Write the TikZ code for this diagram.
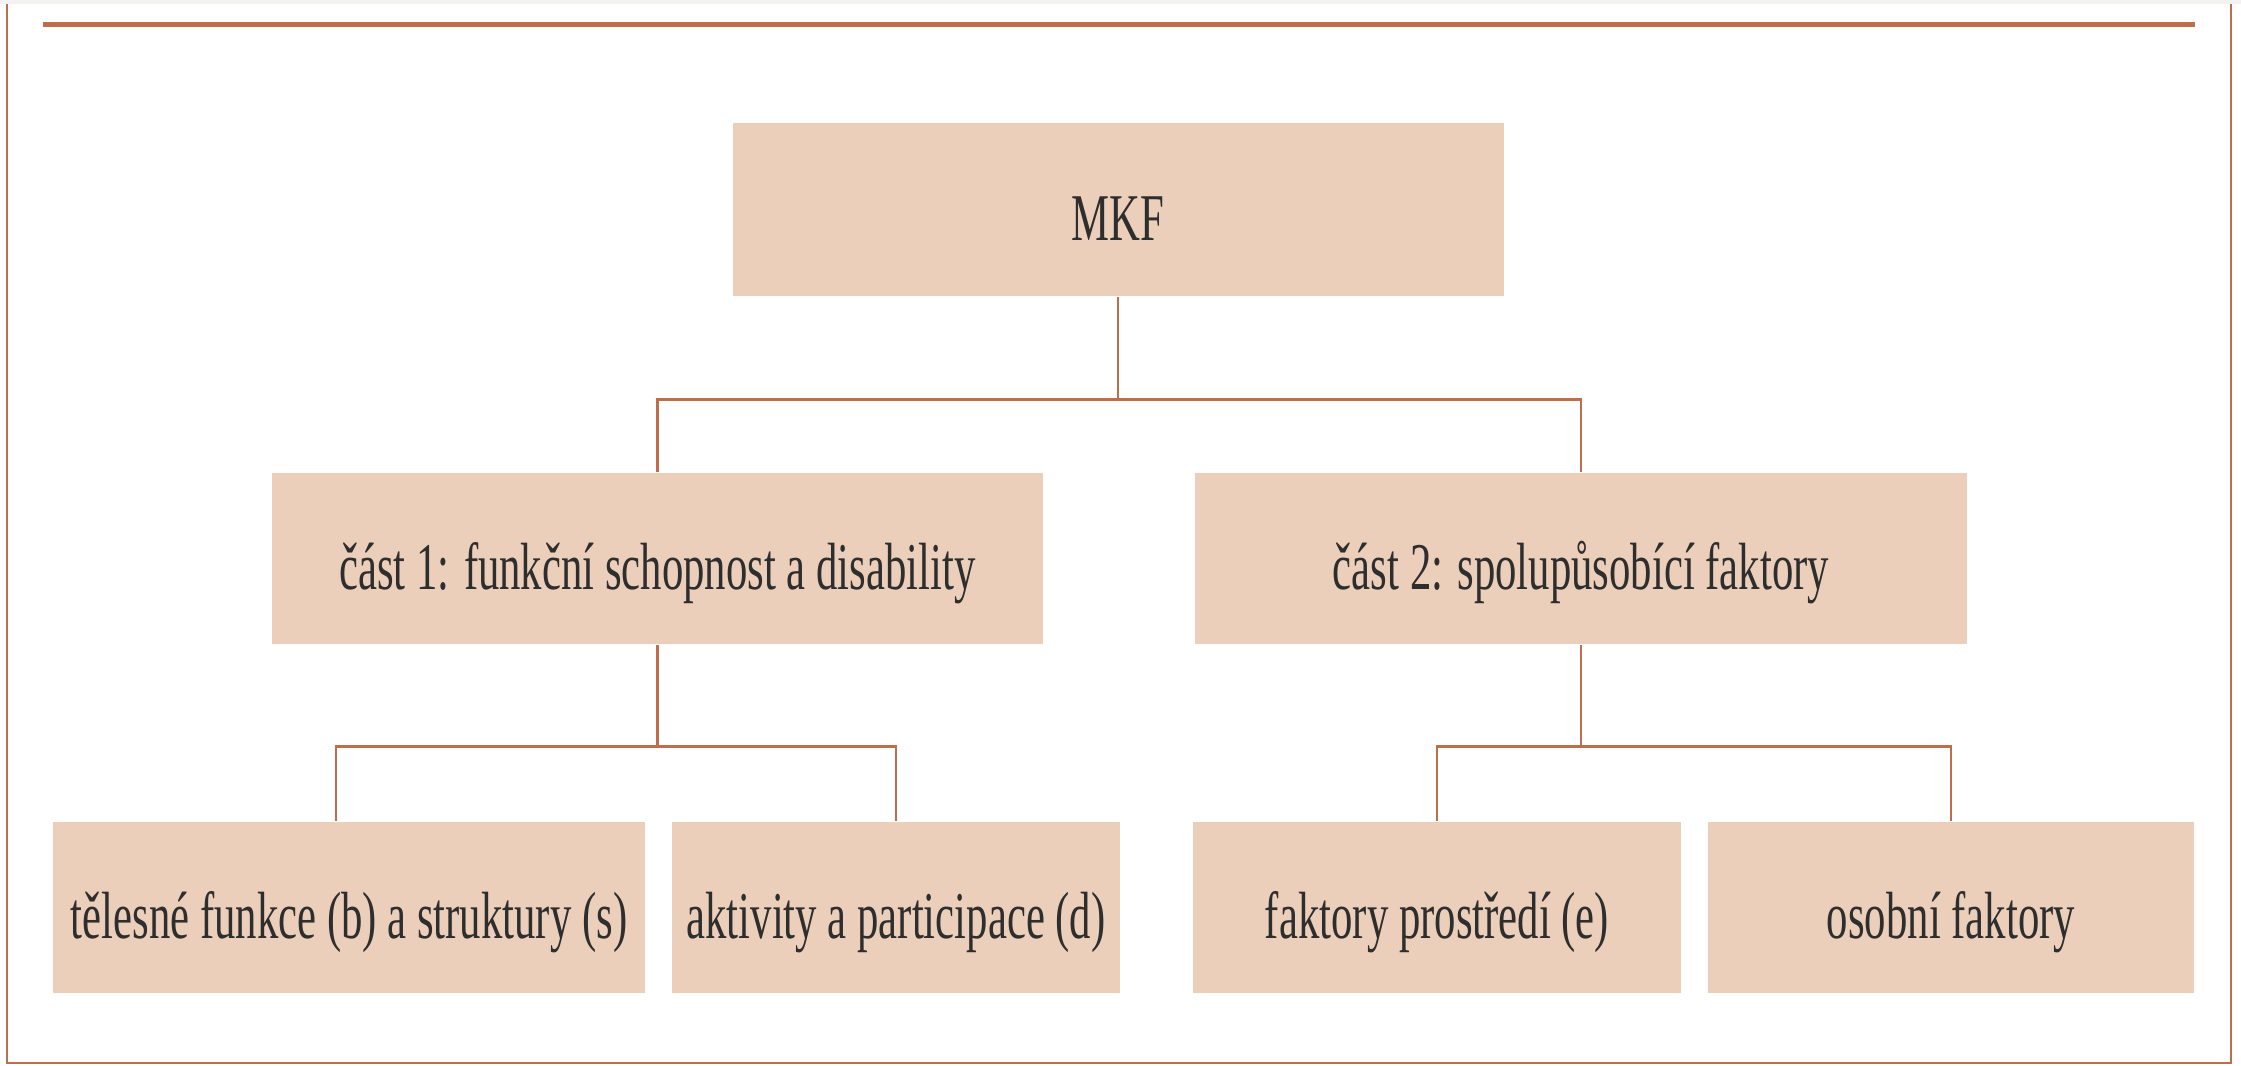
\documentclass[tikz,border=0pt]{standalone}
\usepackage{fontspec}
\setmainfont{Liberation Serif}[FakeStretch=0.64]
\definecolor{icfBody}{rgb}{0.922,0.812,0.729}
\definecolor{icfLine}{rgb}{0.745,0.431,0.290}
\definecolor{icfText}{rgb}{0.18,0.18,0.18}
\definecolor{pageGray}{rgb}{0.949,0.949,0.941}
\usetikzlibrary{positioning}
\tikzstyle{ICF} = [fill=icfBody, minimum height=1.71cm]
\tikzstyle{link} = [draw=icfLine, line width=0.75pt]

\begin{document}
\begin{tikzpicture}[
            every node/.style={inner sep=0pt, text=icfText, font=\fontsize{19}{22}\selectfont, text height=0.75cm, text depth=0.13cm},
            node distance=3.49cm
        ]
            \useasboundingbox (0,0) rectangle (22.41,-10.66);
            \fill [pageGray] (0,0) rectangle (22.41,-0.04);
            \draw [icfLine, line width=0.7pt] (0.07,-0.04) -- (0.07,-10.63) -- (22.31,-10.63) -- (22.31,-0.04);
            \draw [icfLine, line width=1.4pt] (0.43,-0.245) -- (21.95,-0.245);
            \node [ICF, minimum width=7.71cm, minimum height=1.73cm] (mkf) at (11.18,-2.095) {MKF};
            \node [ICF, minimum width=7.71cm, below of=mkf, xshift=-4.605cm] (part1) {část 1: funkční schopnost a disability};
            \node [ICF, minimum width=7.72cm, below of=mkf, xshift=4.63cm] (part2) {část 2: spolupůsobící faktory};
            \node [ICF, minimum width=5.92cm, below of=part1, xshift=-3.085cm] (body) {tělesné funkce (b) a struktury (s)};
            \node [ICF, minimum width=4.48cm, below of=part1, xshift=2.385cm] (activity) {aktivity a participace (d)};
            \node [ICF, minimum width=4.88cm, below of=part2, xshift=-1.44cm] (environment) {faktory prostředí (e)};
            \node [ICF, minimum width=4.86cm, below of=part2, xshift=3.70cm] (personal) {osobní faktory};
            \draw [link] (mkf.south) -- ++(0,-1.03) coordinate (mkfJoin);
            \draw [link] (part1.north) |- (mkfJoin) -| (part2.north);
            \draw [link] (part1.south) -- ++(0,-1.02) coordinate (part1Join);
            \draw [link] ([xshift=-0.13cm]body.north) |- (part1Join) -| (activity.north);
            \draw [link] (part2.south) -- ++(0,-1.02) coordinate (part2Join);
            \draw [link] (environment.north) |- (part2Join) -| (personal.north);
        \end{tikzpicture}
\end{document}
